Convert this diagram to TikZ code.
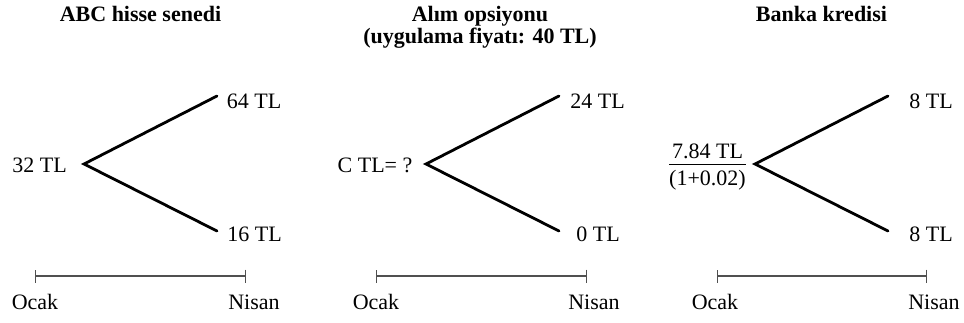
\documentclass[tikz,border=0pt]{standalone}
\usepackage{fontspec}
\setmainfont{Liberation Serif}
\usepackage{xcolor}
\usepackage{tikz}
\usetikzlibrary{arrows.meta}
\definecolor{axisgrey}{RGB}{80,80,80}
\tikzset{
  paneltitle/.style={font=\bfseries\fontsize{11}{11}\selectfont,align=center,
    inner sep=0pt,anchor=base},
  valuelabel/.style={font=\fontsize{11}{13}\selectfont,inner sep=0pt,anchor=base},
  branch/.style={line width=1.4pt,line cap=round},
  timeline/.style={{Bar[width=6.5pt]}-{Bar[width=6.5pt]},line width=0.6pt,
    draw=axisgrey}
}
\newcommand{\fracbox}[2]{\renewcommand{\arraystretch}{0}%
  \begin{tabular}[t]{@{}c@{}}\rule[-2.75pt]{0pt}{10pt}#1\\\hline
  \rule{0pt}{10.5pt}#2\end{tabular}}

\begin{document}
\begin{tikzpicture}[x=0.5pt,y=-0.5pt]
  \useasboundingbox (0,0) rectangle (964,322);
  % ABC hisse senedi
  \node[paneltitle] (t1) at (140.5,21.5) {ABC hisse senedi};
  \coordinate (r1) at (84,164);
  \coordinate (u1) at (217,96);
  \coordinate (d1) at (217,231);
  \node[valuelabel] (s1) at (39.5,172) {32 TL};
  \node[valuelabel] (su1) at (254,108) {64 TL};
  \node[valuelabel] (sd1) at (254.5,241) {16 TL};
  \draw[branch] (u1) -- (r1) -- (d1);
  \coordinate (a1) at (35,276);
  \coordinate (b1) at (246,276);
  \draw[timeline] (a1) -- (b1);
  \node[valuelabel] (o1) at (35,309) {Ocak};
  \node[valuelabel] (n1) at (254,309) {Nisan};
  % Alim opsiyonu
  \node[paneltitle] (t2) at (480,43) {Al\i m opsiyonu\\(uygulama fiyat\i : 40 TL)};
  \coordinate (r2) at (426,164);
  \coordinate (u2) at (559,96);
  \coordinate (d2) at (559,231);
  \node[valuelabel] (s2) at (375,172) {C TL= ?};
  \node[valuelabel] (su2) at (597.5,108) {24 TL};
  \node[valuelabel] (sd2) at (598,241) {0 TL};
  \draw[branch] (u2) -- (r2) -- (d2);
  \coordinate (a2) at (376,276);
  \coordinate (b2) at (587,276);
  \draw[timeline] (a2) -- (b2);
  \node[valuelabel] (o2) at (376,309) {Ocak};
  \node[valuelabel] (n2) at (594,309) {Nisan};
  % Banka kredisi
  \node[paneltitle] (t3) at (821.5,21.5) {Banka kredisi};
  \coordinate (r3) at (755,164);
  \coordinate (u3) at (888,96);
  \coordinate (d3) at (888,231);
  \node[valuelabel] (s3) at (707.5,158.5) {\fracbox{7.84 TL}{(1+0.02)}};
  \node[valuelabel] (su3) at (931,108) {8 TL};
  \node[valuelabel] (sd3) at (931,241) {8 TL};
  \draw[branch] (u3) -- (r3) -- (d3);
  \coordinate (a3) at (717,276);
  \coordinate (b3) at (927,276);
  \draw[timeline] (a3) -- (b3);
  \node[valuelabel] (o3) at (715,309) {Ocak};
  \node[valuelabel] (n3) at (934,309) {Nisan};
\end{tikzpicture}
\end{document}
